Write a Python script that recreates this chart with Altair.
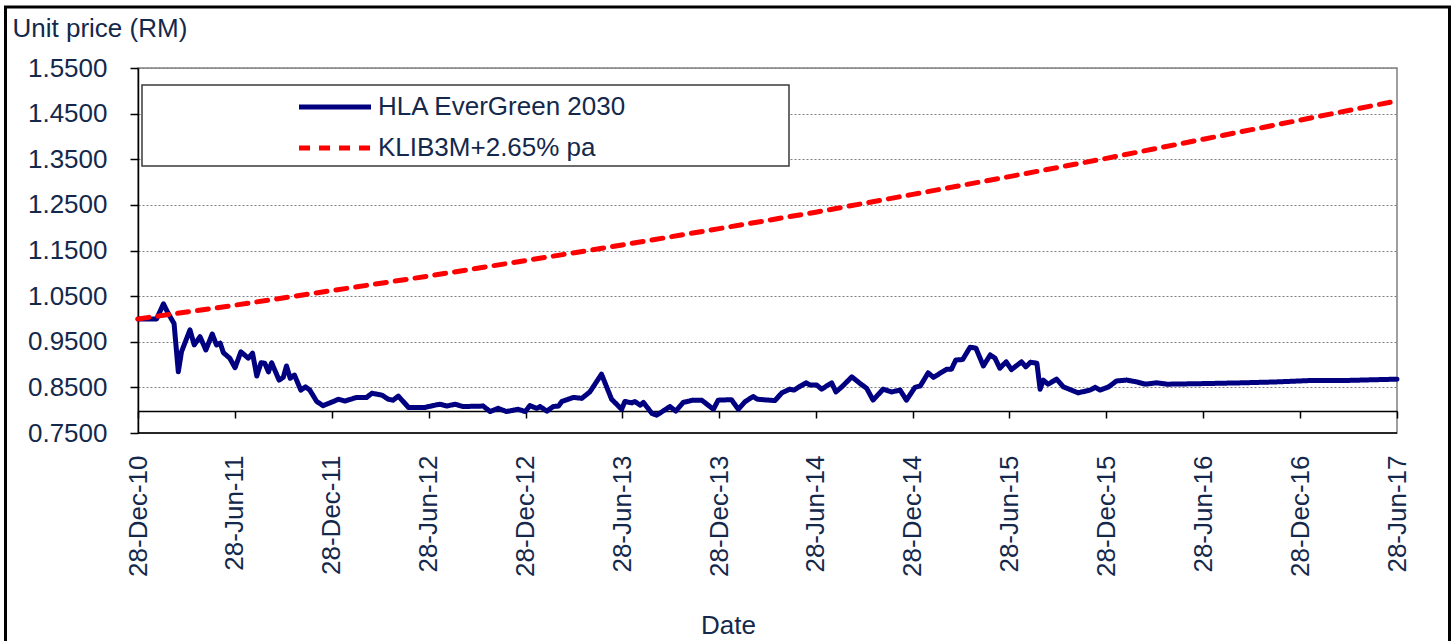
import altair as alt
import pandas as pd

# ---- data ----
hla_dates = [
    "2010-12-28", "2011-01-15", "2011-02-01", "2011-02-14", "2011-02-23", "2011-03-06",
    "2011-03-14", "2011-03-20", "2011-04-05", "2011-04-13", "2011-04-24", "2011-05-05",
    "2011-05-17", "2011-05-25", "2011-06-01", "2011-06-07", "2011-06-19", "2011-06-29",
    "2011-07-10", "2011-07-24", "2011-08-01", "2011-08-09", "2011-08-17", "2011-08-24",
    "2011-08-31", "2011-09-06", "2011-09-20", "2011-09-28", "2011-10-04", "2011-10-11",
    "2011-10-19", "2011-10-31", "2011-11-09", "2011-11-17", "2011-11-30", "2011-12-12",
    "2011-12-25", "2012-01-10", "2012-01-22", "2012-02-13", "2012-03-03", "2012-03-13",
    "2012-04-01", "2012-04-13", "2012-04-22", "2012-05-02", "2012-05-21", "2012-06-21",
    "2012-07-10", "2012-07-19", "2012-08-01", "2012-08-17", "2012-09-01", "2012-10-09",
    "2012-10-22", "2012-11-06", "2012-11-22", "2012-12-14", "2012-12-27", "2013-01-05",
    "2013-01-18", "2013-01-24", "2013-02-06", "2013-02-18", "2013-02-28", "2013-03-06",
    "2013-03-28", "2013-04-13", "2013-04-28", "2013-05-20", "2013-06-08", "2013-06-27",
    "2013-07-03", "2013-07-16", "2013-07-22", "2013-08-01", "2013-08-07", "2013-08-23",
    "2013-09-01", "2013-09-26", "2013-10-07", "2013-10-21", "2013-11-09", "2013-11-25",
    "2013-12-17", "2013-12-26", "2014-01-20", "2014-02-02", "2014-02-15", "2014-03-02",
    "2014-03-10", "2014-04-12", "2014-04-25", "2014-05-10", "2014-05-18", "2014-05-26",
    "2014-06-10", "2014-06-17", "2014-06-30", "2014-07-09", "2014-07-28", "2014-08-05",
    "2014-08-16", "2014-09-04", "2014-09-19", "2014-10-02", "2014-10-14", "2014-11-02",
    "2014-11-18", "2014-12-04", "2014-12-16", "2015-01-01", "2015-01-11", "2015-01-26",
    "2015-02-05", "2015-03-02", "2015-03-11", "2015-03-19", "2015-04-01", "2015-04-15",
    "2015-04-26", "2015-05-10", "2015-05-23", "2015-06-01", "2015-06-10", "2015-06-22",
    "2015-07-02", "2015-07-21", "2015-07-29", "2015-08-07", "2015-08-19", "2015-08-25",
    "2015-08-31", "2015-09-09", "2015-09-25", "2015-10-08", "2015-11-05", "2015-11-27",
    "2015-12-07", "2015-12-16", "2016-01-01", "2016-01-16", "2016-02-04", "2016-02-23",
    "2016-03-10", "2016-04-01", "2016-04-20", "2016-06-15", "2016-09-11", "2016-11-13",
    "2017-01-15", "2017-03-19", "2017-06-28",
]
hla_values = [
    1.000, 1.000, 1.000, 1.033, 1.012, 0.990,
    0.884, 0.928, 0.976, 0.943, 0.961, 0.932,
    0.967, 0.943, 0.947, 0.926, 0.914, 0.893,
    0.928, 0.914, 0.925, 0.875, 0.904, 0.903,
    0.884, 0.904, 0.866, 0.872, 0.897, 0.870,
    0.877, 0.844, 0.851, 0.844, 0.819, 0.810,
    0.816, 0.824, 0.820, 0.828, 0.828, 0.837,
    0.833, 0.824, 0.822, 0.831, 0.806, 0.806,
    0.811, 0.813, 0.809, 0.813, 0.808, 0.809,
    0.797, 0.804, 0.797, 0.802, 0.797, 0.810,
    0.804, 0.808, 0.798, 0.808, 0.809, 0.819,
    0.828, 0.826, 0.840, 0.879, 0.824, 0.802,
    0.819, 0.816, 0.819, 0.811, 0.817, 0.793,
    0.789, 0.808, 0.798, 0.817, 0.822, 0.822,
    0.802, 0.822, 0.823, 0.802, 0.819, 0.830,
    0.824, 0.821, 0.838, 0.846, 0.844, 0.850,
    0.860, 0.855, 0.855, 0.846, 0.860, 0.840,
    0.851, 0.873, 0.859, 0.848, 0.822, 0.846,
    0.840, 0.844, 0.822, 0.850, 0.853, 0.882,
    0.872, 0.890, 0.890, 0.910, 0.911, 0.938,
    0.936, 0.897, 0.921, 0.914, 0.892, 0.906,
    0.889, 0.906, 0.895, 0.905, 0.903, 0.846,
    0.866, 0.857, 0.868, 0.851, 0.838, 0.844,
    0.850, 0.844, 0.851, 0.864, 0.866, 0.862,
    0.857, 0.860, 0.857, 0.858, 0.860, 0.862,
    0.865, 0.865, 0.868,
]

bench_dates = [
    "2010-12-28", "2011-06-28", "2011-12-28", "2012-06-28", "2012-12-28", "2013-06-28",
    "2013-12-28", "2014-06-28", "2014-12-28", "2015-06-28", "2015-12-28", "2016-06-28",
    "2016-12-28", "2017-06-28",
]
bench_values = [
    1.000, 1.030, 1.062, 1.094, 1.128, 1.162,
    1.198, 1.234, 1.273, 1.312, 1.352, 1.394,
    1.436, 1.478,
]

tick_years = [2010, 2011, 2011, 2012, 2012, 2013, 2013, 2014, 2014, 2015, 2015, 2016, 2016, 2017]
tick_months = [12, 6, 12, 6, 12, 6, 12, 6, 12, 6, 12, 6, 12, 6]
y_ticks = [0.75, 0.85, 0.95, 1.05, 1.15, 1.25, 1.35, 1.45, 1.55]

series_names = ["HLA EverGreen 2030", "KLIB3M+2.65% pa"]
series_colors = ["#000080", "#ff0000"]

df = pd.concat([
    pd.DataFrame({"date": hla_dates, "value": hla_values, "series": series_names[0]}),
    pd.DataFrame({"date": bench_dates, "value": bench_values, "series": series_names[1]}),
], ignore_index=True)

TEXT = "#14284b"
FONT = "Liberation Sans"
FS = 26

x_enc = alt.X(
    "date:T",
    scale=alt.Scale(
        type="utc",
        domain=[alt.DateTime(year=2010, month=12, date=28, utc=True),
                alt.DateTime(year=2017, month=6, date=28, utc=True)],
    ),
    axis=alt.Axis(
        values=[alt.DateTime(year=y, month=m, date=28, utc=True) for y, m in zip(tick_years, tick_months)],
        labelExpr="utcFormat(datum.value, '%d-%b-%y')",
        labelAngle=270,
        labelFont=FONT, labelFontSize=FS, labelColor=TEXT,
        labelPadding=37, labelOverlap=False, labelFlush=False,
        offset=-22,
        domainColor="black", domainWidth=1.5,
        tickColor="black", tickSize=7, tickWidth=1.5,
        grid=False,
        title="Date", titleFont=FONT, titleFontSize=FS, titleColor=TEXT,
        titleFontWeight="normal", titleX=590, titleY=214,
        titleAlign="center", titleBaseline="middle",
    ),
)

y_enc = alt.Y(
    "value:Q",
    scale=alt.Scale(domain=[0.75, 1.55], nice=False, zero=False),
    axis=alt.Axis(
        values=y_ticks, format=".4f",
        labelFont=FONT, labelFontSize=FS, labelColor=TEXT, labelPadding=23,
        domainColor="black", domainWidth=1.5,
        tickColor="black", tickSize=8, tickWidth=1.5,
        grid=True, gridColor="#7f7f7f", gridDash=[2, 2], gridWidth=1,
        title="Unit price (RM)", titleFont=FONT, titleFontSize=FS, titleColor=TEXT,
        titleFontWeight="normal", titleAngle=0, titleX=-126, titleY=-40,
        titleAlign="left", titleBaseline="middle",
    ),
)

legend_opts = dict(
    title=None, orient="none", legendX=157, legendY=26,
    symbolType="M-1,0H7", symbolSize=324, symbolStrokeWidth=5,
    labelFont=FONT, labelFontSize=FS, labelColor=TEXT, labelLimit=500,
    labelOffset=57, rowPadding=15, padding=0,
)

lines = alt.Chart(df).mark_line(strokeWidth=5, strokeJoin="round", strokeCap="round").encode(
    x=x_enc,
    y=y_enc,
    color=alt.Color(
        "series:N",
        scale=alt.Scale(domain=series_names, range=series_colors),
        legend=alt.Legend(**legend_opts),
    ),
    strokeDash=alt.StrokeDash(
        "series:N",
        scale=alt.Scale(domain=series_names, range=[[1, 0], [11, 9]]),
        legend=alt.Legend(**legend_opts),
    ),
    order=alt.Order("date:T"),
)

one = pd.DataFrame({"k": [0]})

bottom_rule = alt.Chart(one).mark_rule(color="black", strokeWidth=1.5).encode(y=alt.datum(0.75))

legend_box = alt.Chart(one).mark_rect(fill="white", stroke="#3a3a3a", strokeWidth=1.5).encode(
    x=alt.value(4), x2=alt.value(651), y=alt.value(17), y2=alt.value(98)
)

frame = alt.Chart(one).mark_rect(fillOpacity=0, stroke="black", strokeWidth=3).encode(
    x=alt.value(-132.5), x2=alt.value(1311.5), y=alt.value(-61), y2=alt.value(600)
)

chart = alt.layer(lines, bottom_rule, legend_box, frame).properties(
    width=1259, height=365,
    autosize=alt.AutoSizeParams(type="none"),
    padding={"left": 138, "top": 68, "right": 59, "bottom": 208},
    background="white",
).configure_view(stroke="#808080", strokeWidth=1.5)

chart.save("out.html", embed_options={"renderer": "svg", "actions": False})
